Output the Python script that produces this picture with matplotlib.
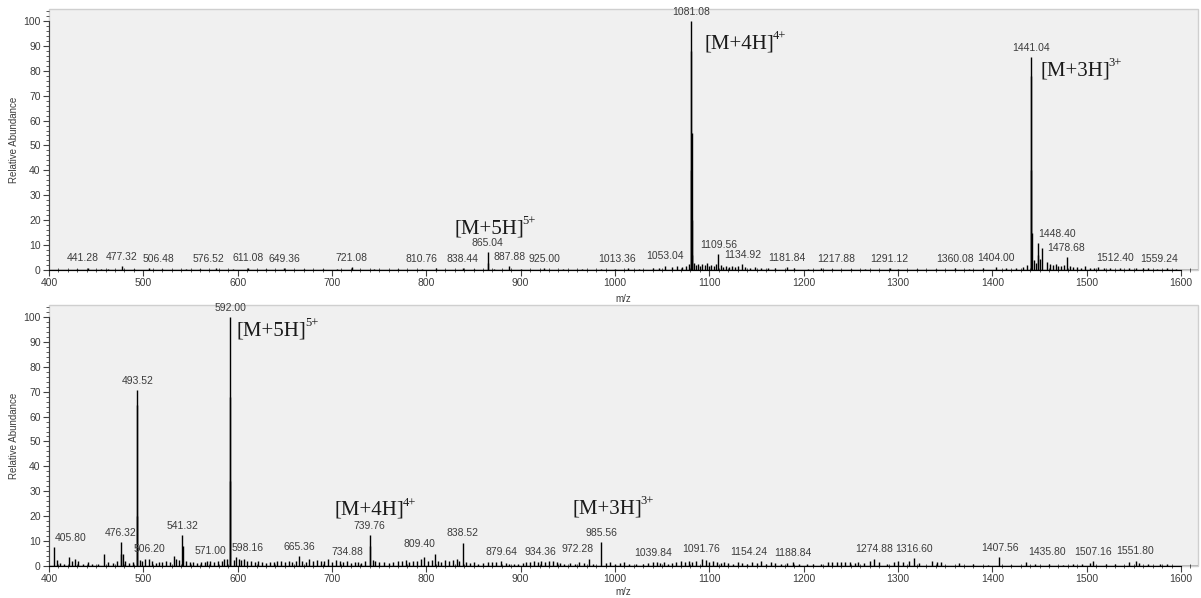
import matplotlib
matplotlib.use("Agg")
import matplotlib.pyplot as plt
from matplotlib.patches import Rectangle
from matplotlib.ticker import MultipleLocator

plt.rcParams["font.family"] = ["Liberation Sans", "DejaVu Sans"]

# ---- top spectrum ----
top_mz = [441.28, 477.32, 506.48, 576.52, 611.08, 649.36, 721.08, 810.76, 838.44, 865.04,
          887.88, 925.00, 1013.36, 1053.04, 1081.08, 1109.56, 1134.92, 1181.84, 1217.88, 1291.12,
          1360.08, 1404.00, 1441.04, 1448.40, 1478.68, 1512.40, 1559.24,
          1080.58, 1080.83, 1081.33, 1081.58, 1081.83, 1440.71, 1441.37, 1441.71, 865.30, 1448.70, 1453.0,
          430, 455, 463, 490, 520, 545, 560, 595, 630, 670, 690, 705, 745, 770, 795, 850, 872, 900,
          945, 965, 985, 1000, 1025, 1040, 1047, 1060, 1066, 1071, 1075, 1078, 1084, 1086, 1088,
          1090, 1092, 1095, 1097, 1100, 1102, 1105, 1107, 1112, 1115, 1118, 1121, 1124, 1127, 1130,
          1138, 1143, 1148, 1155, 1162, 1170, 1190, 1205, 1230, 1250, 1265, 1300, 1320, 1340, 1375,
          1390, 1415, 1425, 1432, 1437, 1444, 1446, 1451, 1458, 1461, 1464, 1467, 1470, 1473, 1476,
          1482, 1486, 1490, 1494, 1498, 1503, 1508, 1518, 1525, 1535, 1545, 1552, 1565, 1575, 1585, 1595]
top_int = [1.0, 1.5, 0.8, 0.8, 1.0, 0.8, 1.2, 0.8, 0.8, 7.2,
           1.5, 0.8, 0.8, 1.8, 100, 6.4, 2.5, 1.2, 0.8, 0.8,
           0.8, 1.3, 85.5, 10.8, 5.2, 1.2, 0.9,
           40, 88, 55, 20, 6, 78, 40, 15, 3, 6, 8.8,
           0.5, 0.6, 0.4, 0.5, 0.4, 0.6, 0.4, 0.5, 0.4, 0.5, 0.4, 0.6, 0.4, 0.5, 0.4, 0.6, 0.5, 0.5,
           0.4, 0.6, 0.5, 0.4, 0.6, 0.8, 1.0, 1.2, 1.5, 1.3, 1.8, 2.5, 3.0, 2.2, 2.6,
           1.8, 2.4, 2.0, 2.8, 1.6, 2.2, 1.5, 2.5, 2.0, 1.4, 1.8, 1.3, 1.6, 1.2, 1.5,
           1.2, 1.0, 1.1, 0.9, 1.0, 0.8, 0.7, 0.6, 0.5, 0.6, 0.5, 0.5, 0.6, 0.5, 0.5,
           0.7, 0.8, 0.9, 1.2, 2.0, 4.0, 3.0, 4.5, 3.2, 2.6, 2.2, 2.5, 1.8, 1.5, 2.0,
           1.8, 1.4, 1.2, 1.0, 1.5, 1.0, 0.9, 0.8, 0.7, 0.8, 0.7, 0.8, 0.7, 0.6, 0.7, 0.6]
top_labels = [441.28, 477.32, 506.48, 576.52, 611.08, 649.36, 721.08, 810.76, 838.44, 865.04,
              887.88, 925.00, 1013.36, 1053.04, 1081.08, 1109.56, 1134.92, 1181.84, 1217.88, 1291.12,
              1360.08, 1404.00, 1441.04, 1448.40, 1478.68, 1512.40, 1559.24]
top_ions = [("[M+5H]", "5+"), ("[M+4H]", "4+"), ("[M+3H]", "3+")]
top_ion_xy = [(830, 14.5), (1095, 89), (1451, 78)]

# ---- bottom spectrum ----
bot_mz = [405.80, 476.32, 493.52, 506.20, 541.32, 571.00, 592.00, 598.16, 665.36, 734.88,
          739.76, 809.40, 838.52, 879.64, 934.36, 972.28, 985.56, 1039.84, 1091.76, 1154.24,
          1188.84, 1274.88, 1316.60, 1407.56, 1435.80, 1507.16, 1551.80,
          493.32, 493.72, 591.80, 592.20, 541.52, 739.96, 476.50,
          408, 412, 416, 421, 424, 428, 431, 436, 441, 446, 452, 458, 463, 468, 472, 478, 481, 485,
          489, 496, 499, 502, 509, 513, 517, 520, 524, 528, 532, 535, 538, 545, 549, 553, 557, 561,
          565, 568, 575, 579, 583, 586, 589, 596, 601, 604, 607, 610, 614, 618, 622, 626, 630, 634,
          638, 642, 646, 650, 654, 658, 662, 668, 672, 676, 680, 684, 688, 692, 696, 700, 704, 708,
          712, 716, 720, 724, 728, 731, 743, 746, 750, 755, 760, 765, 770, 774, 778, 782, 786, 790,
          794, 798, 802, 806, 812, 816, 820, 824, 828, 832, 835, 842, 846, 850, 855, 860, 865, 870,
          874, 884, 888, 893, 897, 902, 906, 910, 914, 918, 922, 926, 930, 938, 942, 946, 952, 958,
          962, 967, 977, 990, 995, 1000, 1005, 1010, 1015, 1022, 1030, 1035, 1044, 1048, 1052, 1056,
          1060, 1065, 1070, 1074, 1078, 1082, 1086, 1096, 1100, 1104, 1108, 1112, 1116, 1120, 1125,
          1130, 1135, 1140, 1145, 1150, 1160, 1165, 1170, 1176, 1182, 1195, 1203, 1210, 1218, 1226,
          1230, 1235, 1240, 1244, 1249, 1254, 1258, 1264, 1270, 1280, 1288, 1296, 1300, 1305, 1312,
          1322, 1336, 1341, 1346, 1365, 1380, 1395, 1420, 1445, 1460, 1475, 1485, 1495, 1503, 1520,
          1530, 1545, 1555, 1565, 1578, 1585]
bot_int = [7.6, 9.5, 70.5, 3.0, 12.4, 2.2, 100, 3.5, 4.0, 2.0,
           12.5, 5.0, 9.4, 2.0, 2.0, 3.0, 9.6, 1.5, 3.0, 2.0,
           1.5, 3.0, 3.2, 3.5, 1.8, 2.0, 2.2,
           64.5, 20, 68, 34, 8, 8, 5,
           2.5, 1.2, 1.0, 3.5, 2.0, 3.0, 2.2, 1.0, 1.5, 1.0, 0.8, 5.0, 1.5, 1.2, 2.0, 5.0, 2.0, 1.2,
           1.5, 2.5, 2.0, 2.8, 2.0, 1.2, 1.8, 1.5, 2.2, 1.8, 4.0, 3.0, 2.5, 2.2, 1.8, 1.5, 1.2, 1.8,
           1.5, 2.0, 1.8, 2.2, 2.0, 2.8, 3.0, 2.5, 3.0, 2.5, 2.8, 2.0, 2.2, 1.8, 2.0, 1.5, 1.2, 1.8,
           1.5, 2.0, 2.2, 1.8, 2.0, 1.5, 2.0, 2.2, 1.5, 3.0, 2.0, 2.5, 2.2, 2.0, 2.8, 1.8, 2.5, 2.0,
           1.5, 2.2, 1.2, 1.8, 1.5, 1.2, 2.5, 2.0, 1.5, 1.8, 1.2, 1.5, 2.0, 2.2, 2.5, 1.8, 2.0, 2.2,
           2.8, 3.5, 2.0, 2.5, 2.2, 1.8, 2.5, 2.0, 2.5, 3.0, 2.2, 1.5, 1.2, 1.5, 1.0, 1.2, 1.5, 1.8,
           1.5, 1.2, 1.0, 0.8, 1.0, 1.2, 1.5, 1.8, 2.0, 1.8, 2.2, 1.5, 2.0, 1.5, 1.2, 1.0, 1.2, 1.0,
           1.5, 1.2, 1.0, 1.2, 1.5, 1.0, 1.2, 1.5, 1.0, 0.8, 1.0, 1.2, 1.5, 1.2, 1.5, 1.0,
           1.2, 1.5, 2.0, 1.8, 2.0, 1.5, 2.2, 2.5, 1.8, 2.0, 1.5, 1.2, 1.5, 1.2, 1.0,
           1.5, 1.2, 1.0, 1.5, 1.2, 1.0, 1.5, 1.2, 1.0, 1.2, 1.0, 1.0, 0.8, 1.0, 1.5,
           1.8, 1.5, 1.8, 1.5, 1.8, 1.2, 1.5, 1.2, 2.0, 1.5, 1.0, 1.8, 2.2, 1.5, 2.0,
           1.2, 2.0, 1.8, 1.5, 1.2, 0.8, 0.6, 0.6, 1.0, 0.8, 0.6, 1.0, 0.8, 1.2, 0.8,
           1.0, 1.5, 1.2, 1.0, 0.8, 1.0]
bot_labels = [405.80, 476.32, 493.52, 506.20, 541.32, 571.00, 592.00, 598.16, 665.36, 734.88,
              739.76, 809.40, 838.52, 879.64, 934.36, 972.28, 985.56, 1039.84, 1091.76, 1154.24,
              1188.84, 1274.88, 1316.60, 1407.56, 1435.80, 1507.16, 1551.80]
bot_ions = [("[M+5H]", "5+"), ("[M+4H]", "4+"), ("[M+3H]", "3+")]
bot_ion_xy = [(599, 92.5), (703, 20.5), (955, 21)]

# small sideways nudges of the peak labels (m/z units), as the instrument software placed them
label_shift = {441.28: -6, 506.48: 10, 576.52: -8, 810.76: -16, 1013.36: -11, 1217.88: 17,
               1448.40: 20, 1512.40: 18, 1559.24: 17, 405.80: 17, 598.16: 12, 734.88: -19,
               809.40: -17, 934.36: -14, 972.28: -12, 1154.24: -13, 1435.80: 22}

fig = plt.figure(figsize=(12.01, 5.98), dpi=100)
ax1 = fig.add_axes([0.0408, 0.5485, 0.9567, 0.4365])
ax2 = fig.add_axes([0.0408, 0.0535, 0.9567, 0.4365])

tick_col = "#3c3c3c"
for ax, mz, inten, labels, ions, ion_xy, xpad in [
        (ax1, top_mz, top_int, top_labels, top_ions, top_ion_xy, 4),
        (ax2, bot_mz, bot_int, bot_labels, bot_ions, bot_ion_xy, 2)]:
    ax.patch.set_visible(False)
    ax.add_patch(Rectangle((0, 0), 1, 1, transform=ax.transAxes, facecolor="#f0f0f0",
                           edgecolor="#cfcfcf", lw=1.0, zorder=0, clip_on=False))
    ax.vlines(mz, 0, inten, color="black", lw=1.0, zorder=2)
    ax.axhline(0, color="black", lw=1.0, zorder=2)

    for m in labels:
        h = inten[mz.index(m)]
        ax.annotate("%.2f" % m, (m + label_shift.get(m, 0), h), xytext=(0, 3),
                    textcoords="offset points", ha="center", va="bottom",
                    fontsize=7.5, color=tick_col, zorder=3)
    for (main, sup), (x, y) in zip(ions, ion_xy):
        t = ax.text(x, y, main, fontsize=15, family="Liberation Serif", color="#1a1a1a",
                    ha="left", va="baseline", zorder=3)
        ax.annotate(sup, xy=(1.0, 0.6), xycoords=t, xytext=(-1.2, 0), textcoords="offset points",
                    fontsize=9, family="Liberation Serif", color="#1a1a1a",
                    ha="left", va="bottom", zorder=3)

    ax.set_xlim(400, 1618)
    ax.set_ylim(0, 104.8)
    ax.xaxis.set_major_locator(MultipleLocator(100))
    ax.xaxis.set_minor_locator(MultipleLocator(10))
    ax.yaxis.set_major_locator(MultipleLocator(10))
    ax.yaxis.set_minor_locator(MultipleLocator(2))
    ax.set_xticks(range(400, 1700, 100))
    ax.set_yticks(range(0, 110, 10))
    for s in ["top", "right"]:
        ax.spines[s].set_visible(False)
    ax.spines["left"].set_bounds(0, 100)
    ax.spines["bottom"].set_bounds(400, 1600)
    ax.spines["left"].set_color("#404040")
    ax.spines["bottom"].set_color("black")
    ax.tick_params(axis="both", which="major", length=4, width=0.8, labelsize=7.5,
                   labelcolor=tick_col, color="#404040", pad=2)
    ax.tick_params(axis="both", which="minor", length=2.5, width=0.6, color="#404040")
    ax.tick_params(axis="x", which="minor", direction="inout")
    ax.set_xlim(400, 1618)
    ax.set_ylabel("Relative Abundance", fontsize=7, color=tick_col, labelpad=3)
    ax.set_xlabel("m/z", fontsize=7, color=tick_col, labelpad=xpad)

fig.savefig("out.png", dpi=100)
